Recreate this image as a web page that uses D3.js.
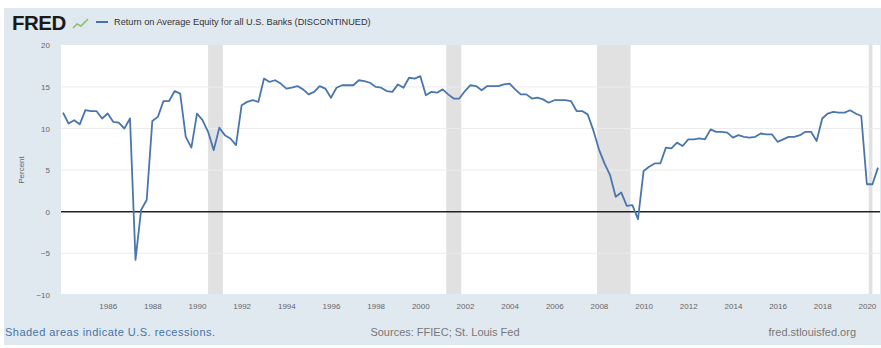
<!DOCTYPE html>
<html><head><meta charset="utf-8">
<script src="https://cdn.jsdelivr.net/npm/d3@7"></script>
<style>html,body{margin:0;padding:0;background:#fff;}svg{display:block;font-family:"Liberation Sans",Arial,sans-serif;}</style>
</head><body><svg id="c" width="881" height="348"></svg>
<script>
const title = "Return on Average Equity for all U.S. Banks (DISCONTINUED)";
const startQuarter = "1984-01-01";
const roe = [
11.9,10.6,11.0,10.5, 12.2,12.1,12.1,11.2, 11.8,10.8,10.7,10.0, 11.2,-5.8,0.2,1.4,
10.9,11.4,13.3,13.3, 14.5,14.2,9.0,7.7, 11.8,11.0,9.6,7.4, 10.1,9.2,8.8,8.0,
12.8,13.2,13.4,13.2, 16.0,15.6,15.8,15.4, 14.8,14.9,15.1,14.7, 14.1,14.4,15.1,14.8,
13.7,14.9,15.2,15.2, 15.2,15.8,15.7,15.5, 15.0,14.9,14.5,14.4, 15.3,14.9,16.1,16.0,
16.3,14.0,14.4,14.3, 14.7,14.1,13.6,13.6, 14.5,15.2,15.1,14.6, 15.1,15.1,15.1,15.3,
15.4,14.7,14.1,14.1, 13.6,13.7,13.5,13.1, 13.4,13.4,13.4,13.3, 12.1,12.1,11.7,9.8,
7.5,5.8,4.4,1.8, 2.3,0.7,0.8,-0.9, 4.9,5.4,5.8,5.8, 7.7,7.6,8.3,7.9,
8.7,8.7,8.8,8.7, 9.9,9.6,9.6,9.5, 8.9,9.2,9.0,8.9, 9.0,9.4,9.3,9.3,
8.4,8.7,9.0,9.0, 9.2,9.6,9.6,8.5, 11.2,11.8,12.0,11.9, 11.9,12.2,11.8,11.5,
3.3,3.3,5.3
];
const recessions = [["1990-07-01","1991-03-01"],["2001-03-01","2001-11-01"],["2007-12-01","2009-06-01"],["2020-02-01","2020-04-01"]];
const yTicks = [-10,-5,0,5,10,15,20];
const xTickYears = d3.range(1986, 2021, 2);
const yLabel = "Percent";
const footLeft = "Shaded areas indicate U.S. recessions.";
const footMid = "Sources: FFIEC; St. Louis Fed";
const footRight = "fred.stlouisfed.org";

const parse = d3.utcParse("%Y-%m-%d");
const t0 = parse(startQuarter);
const data = roe.map((v,i)=>({date:d3.utcMonth.offset(t0, 3*i), value:v}));

const svg = d3.select("#c");
svg.append("rect").attr("x",4).attr("y",8).attr("width",877).attr("height",337).attr("fill","#e1e9f0");

const plotL=61, plotR=880, plotT=45, plotB=294;
svg.append("rect").attr("x",plotL).attr("y",plotT).attr("width",plotR-plotL).attr("height",plotB-plotT).attr("fill","#fff");

const x = d3.scaleUtc().domain([data[0].date, data[data.length-1].date]).range([63,878]);
const y = d3.scaleLinear().domain([-10,20]).range([294.9,45.3]);

svg.append("g").selectAll("rect").data(recessions).join("rect")
  .attr("x",d=>x(parse(d[0]))).attr("width",d=>x(parse(d[1]))-x(parse(d[0])))
  .attr("y",plotT).attr("height",plotB-plotT).attr("fill","#e1e1e1");

svg.append("g").selectAll("line").data(yTicks.filter(t=>t!==0 && t!==-10 && t!==20)).join("line")
  .attr("x1",plotL).attr("x2",plotR).attr("y1",d=>y(d)).attr("y2",d=>y(d))
  .attr("stroke","#ececec").attr("stroke-width",1);

svg.append("line").attr("x1",plotL).attr("x2",plotR).attr("y1",y(0)).attr("y2",y(0))
  .attr("stroke","#222").attr("stroke-width",1.6);

const yAxis = d3.axisLeft(y).tickValues(yTicks).tickSize(0).tickPadding(0);
const gy = svg.append("g").attr("transform","translate(50,0)").call(yAxis);
gy.select(".domain").remove();
gy.selectAll("text").attr("font-size",8).attr("fill","#666").attr("font-family","Liberation Sans, Arial, sans-serif");

const xAxis = d3.axisBottom(x).tickValues(xTickYears.map(yr=>new Date(Date.UTC(yr,0,1)))).tickFormat(d3.utcFormat("%Y")).tickSize(0).tickPadding(0);
const gx = svg.append("g").attr("transform","translate(0,303)").call(xAxis);
gx.select(".domain").remove();
gx.selectAll("text").attr("font-size",8).attr("fill","#666").attr("font-family","Liberation Sans, Arial, sans-serif");

svg.append("path").datum(data)
  .attr("d", d3.line().x(d=>x(d.date)).y(d=>y(d.value)))
  .attr("fill","none").attr("stroke","#4a76ad").attr("stroke-width",1.8).attr("stroke-linejoin","round");

svg.append("text").attr("transform","translate(24,170) rotate(-90)").attr("text-anchor","middle")
  .attr("font-size",8).attr("fill","#666").text(yLabel);

svg.append("text").attr("x",12).attr("y",30).attr("font-size",20.5).attr("font-weight","900")
  .attr("font-family","Liberation Sans, Arial, sans-serif").attr("fill","#1a1a1a").attr("letter-spacing","-0.5").text("FRED");
const ic = svg.append("g").attr("transform","translate(72,17)");
ic.append("rect").attr("x",0).attr("y",0).attr("width",17).attr("height",12).attr("fill","#dfe7ee");
ic.append("path").attr("d","M1,11 L5,7 L9,9 L16,2").attr("fill","none").attr("stroke","#8fbf6a").attr("stroke-width",1.6);
svg.append("line").attr("x1",96).attr("x2",108).attr("y1",22).attr("y2",22).attr("stroke","#4572a7").attr("stroke-width",2);
svg.append("text").attr("x",114).attr("y",25).attr("font-size",9.2).attr("fill","#333").text(title);

svg.append("text").attr("x",5).attr("y",336).attr("font-size",11).attr("fill","#4572a7")
  .attr("textLength",210).attr("lengthAdjust","spacing").text(footLeft);
svg.append("text").attr("x",445).attr("y",336).attr("text-anchor","middle").attr("font-size",11).attr("fill","#777").text(footMid);
svg.append("text").attr("x",856).attr("y",336).attr("text-anchor","end").attr("font-size",11).attr("fill","#777").text(footRight);
</script></body></html>
